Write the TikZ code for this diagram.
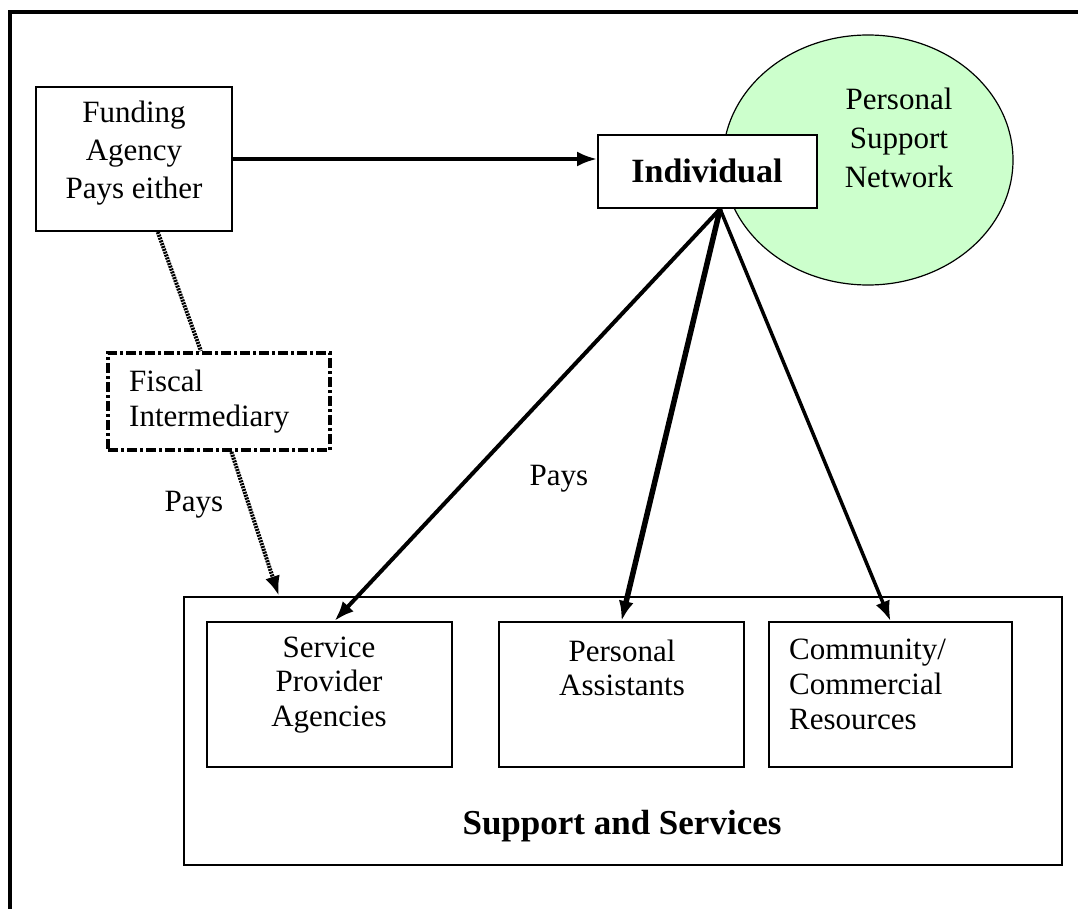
\documentclass[tikz,border=0pt]{standalone}
\usepackage{fontspec}
\setmainfont{Liberation Serif}
\usetikzlibrary{arrows.meta,shapes.geometric,calc}
\definecolor{psgreen}{HTML}{CCFFCC}
\tikzset{
  box/.style={draw, line width=2pt, fill=white, inner sep=0pt},
  txt/.style={inner sep=0pt, font=\fontsize{31}{37}\selectfont},
  btxt/.style={inner sep=0pt, font=\fontsize{34}{40}\selectfont\bfseries},
  tip/.style={-{Latex[length=20pt,width=15pt]}},
  arr/.style={tip, line width=3.5pt},
  dots/.style={line width=4pt, dash pattern=on 2pt off 1pt},
  dashdotbox/.style={draw, line width=4pt, dash pattern=on 10pt off 3pt on 3pt off 3pt, fill=white, inner sep=0pt}
}
\begin{document}
\begin{tikzpicture}[x=1pt,y=-1pt]
\useasboundingbox (0,0) rectangle (1078,909);
\fill[white] (0,0) rectangle (1078,909);
% outer frame
\draw[line width=4.5pt, line join=miter] (10,909) -- (10,12) -- (1078,12);

% personal support network
\node[ellipse, draw, line width=1.2pt, fill=psgreen, minimum width=290pt, minimum height=250pt, inner sep=0pt] (psn) at (868,160) {};
\node[txt, align=center, font=\fontsize{31}{39}\selectfont] (psntext) at (899,138) {Personal\\Support\\Network};

% funding agency
\node[box, minimum width=196pt, minimum height=144pt] (fund) at (134,159) {};
\node[txt, align=center, font=\fontsize{31}{38}\selectfont] (fundtext) at (134,153) {Funding\\Agency\\Pays either};

% individual
\node[box, minimum width=219pt, minimum height=73pt] (indiv) at (707.5,171.5) {};
\node[btxt] (indivtext) at (707,171) {Individual};

% fiscal intermediary
\node[dashdotbox, minimum width=222pt, minimum height=97pt] (fiscal) at (219,401.5) {};
\node[txt, align=left, anchor=west, font=\fontsize{31}{35}\selectfont] (fiscaltext) at (129,402) {Fiscal\\Intermediary};

% support and services
\node[box, minimum width=878pt, minimum height=268pt] (outer) at (623,731) {};
\node[box, minimum width=245pt, minimum height=145pt] (spa) at (329.5,694.5) {};
\node[box, minimum width=245pt, minimum height=145pt] (pa) at (621.5,694.5) {};
\node[box, minimum width=243pt, minimum height=145pt] (ccr) at (890.5,694.5) {};
\node[txt, align=center, font=\fontsize{31}{34.5}\selectfont] (spatext) at (329,685) {Service\\Provider\\Agencies};
\node[txt, align=center, font=\fontsize{31}{34.5}\selectfont] (patext) at (622,668) {Personal\\Assistants};
\node[txt, align=left, anchor=west, font=\fontsize{31}{35}\selectfont] (ccrtext) at (789,684) {Community/\\Commercial\\Resources};
\node[btxt, font=\fontsize{35}{40}\selectfont\bfseries] (sstext) at (622,826) {Support and Services};

% labels
\node[txt] (pays1) at (194,505) {Pays};
\node[txt] (pays2) at (559,479) {Pays};

% connectors
\draw[arr] (fund.east |- 0,159) -- (indiv.west |- 0,159);
\draw[dots] ($(fund.south west)!0.62!(fund.south east)$) -- ($(fiscal.north west)!0.42!(fiscal.north east)$);
\draw[dots, tip] ($(fiscal.south west)!0.555!(fiscal.south east)$) -- ($(outer.north west)!0.109!(outer.north east)$);
\coordinate (src) at ($(indiv.south west)!0.557!(indiv.south east)$);
\draw[arr, line width=4pt] (src) -- ($(spa.north west)!0.52!(spa.north east)$);
\draw[arr, line width=5.5pt] (src) -- (pa.north);
\draw[arr] (src) -- (ccr.north);
\end{tikzpicture}
\end{document}
